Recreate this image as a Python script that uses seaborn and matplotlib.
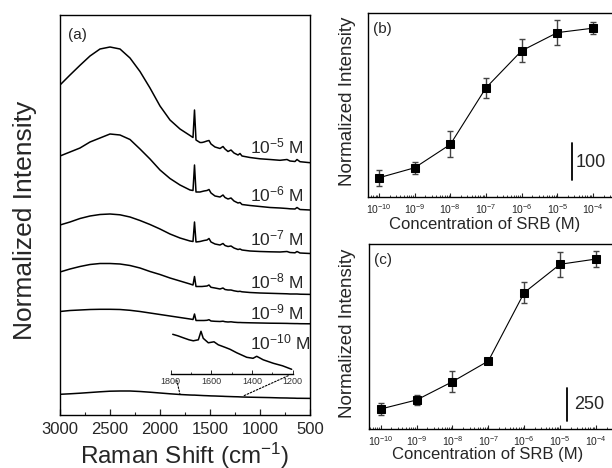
import matplotlib
matplotlib.use("Agg")
import matplotlib.pyplot as plt
import seaborn as sns
from matplotlib.patches import ConnectionPatch
from matplotlib.ticker import MultipleLocator, LogLocator, NullFormatter

# ---------------- data: panel (a) spectra ----------------
raman_shift = [3000, 2900, 2800, 2700, 2600, 2500, 2400, 2300, 2200, 2100, 2000,
               1900, 1800, 1700, 1670, 1655, 1640, 1600, 1580, 1560, 1530, 1510,
               1490, 1450, 1400, 1370, 1350, 1320, 1290, 1260, 1220, 1200, 1180,
               1100, 1000, 900, 800, 730, 700, 650, 630, 600, 500]

spec_1e5 = [330, 340, 349.7, 359, 366, 368, 366, 357, 343.5, 327, 309, 295, 286,
            279.5, 277.5, 305, 275, 272.5, 272.5, 273, 274, 274.5, 271, 268, 266.5,
            268.5, 266, 263.5, 265, 262, 260, 261.5, 259, 257.5, 256.2, 255.5, 254.7,
            255.5, 254, 253.5, 255.5, 253.3, 252.3]
spec_1e6 = [259, 263, 267, 273, 277, 281, 280, 275.5, 266, 256, 245, 236.5, 230,
            225, 224.5, 250, 223, 223, 223.5, 224, 224.5, 225.5, 222, 219, 218, 220,
            217.5, 216, 217, 214, 212, 212.5, 210.5, 209.5, 208.5, 207.5, 207, 206.5,
            206.2, 206, 207.5, 205.5, 205]
spec_1e7 = [190, 193, 196.5, 199, 200.5, 201, 200.2, 198, 194.5, 190.5, 186, 181,
            177, 174, 173.5, 193, 173, 173.5, 174, 174.5, 175, 176.5, 173, 171, 170,
            171.5, 169.5, 168.5, 169, 167, 165.5, 166, 165, 164, 163.5, 163.2, 163,
            163.5, 162.5, 162.2, 163.5, 162, 161.5]
spec_1e8 = [143, 146, 148.5, 150.5, 151.5, 151.5, 151, 149.5, 147, 143.5, 140.5,
            137, 134, 131, 130, 138.5, 128.5, 128.5, 128.5, 128.7, 129, 130, 127.7,
            127, 126, 127, 125.5, 125, 125, 124.2, 123.5, 123.7, 123.2, 122.5, 122,
            121.7, 121.4, 121.2, 121, 121, 121, 120.8, 120.6]
spec_1e9 = [103.5, 104.5, 105, 105.5, 105.7, 105.7, 105.5, 104.7, 103.5, 102, 100.5,
            99, 97.5, 96, 95.5, 101, 94.5, 94.5, 94.5, 94.5, 94.7, 95.3, 94, 93.7,
            93.5, 93.8, 93.3, 93, 93.2, 92.8, 92.5, 92.5, 92.4, 92.2, 92, 91.8, 91.7,
            91.6, 91.5, 91.4, 91.4, 91.3, 91.2]
spec_1e10 = [20.7, 21.2, 21.8, 22.5, 23.2, 23.8, 24, 24, 23.5, 22.8, 22, 21.2, 20.5,
             20, 19.9, 19.9, 19.8, 19.6, 19.5, 19.4, 19.3, 19.2, 19.1, 19.0, 18.8,
             18.7, 18.6, 18.5, 18.4, 18.3, 18.2, 18.1, 18.0, 17.8, 17.6, 17.4, 17.1,
             17.0, 16.9, 16.8, 16.7, 16.7, 16.6]

spectra = [spec_1e5, spec_1e6, spec_1e7, spec_1e8, spec_1e9, spec_1e10]
spectrum_labels = [r"$10^{-5}$ M", r"$10^{-6}$ M", r"$10^{-7}$ M",
                   r"$10^{-8}$ M", r"$10^{-9}$ M", r"$10^{-10}$ M"]

# inset: magnified 10^-10 M spectrum (1800-1200 cm-1)
inset_shift = [1790, 1765, 1738, 1710, 1689, 1664, 1651, 1640, 1615, 1587, 1566,
               1533, 1508, 1475, 1426, 1395, 1377, 1345, 1295, 1250, 1205]
inset_vals = [40, 38.5, 36.5, 34.5, 33.5, 34.5, 43, 36, 31.5, 32.5, 29.5,
              27, 25, 21.5, 17, 16, 18, 14.5, 11, 8.5, 5]
inset_ticks = [1800, 1600, 1400, 1200]

# ---------------- data: panels (b) and (c) ----------------
concentration = [1e-10, 1e-9, 1e-8, 1e-7, 1e-6, 1e-5, 1e-4]
intensity_b = [52, 79, 142, 295, 395, 444, 456]
error_b = [22, 16, 35, 27, 31, 34, 16]
intensity_c = [153, 222, 362, 520, 1043, 1260, 1300]
error_c = [47, 41, 79, 15, 83, 97, 60]
scale_b = 100
scale_c = 250

# ---------------- style ----------------
sns.set_style("ticks")
plt.rcParams["font.family"] = ["Liberation Sans", "DejaVu Sans"]
plt.rcParams["mathtext.default"] = "regular"
plt.rcParams["axes.linewidth"] = 1.0

W, H = 612, 468
fig = plt.figure(figsize=(W / 100, H / 100), dpi=100)


def px_axes(l, t, r, b):
    return fig.add_axes([l / W, (H - b) / H, (r - l) / W, (b - t) / H])


# ---------------- panel (a) ----------------
ax = px_axes(60, 15, 310, 415)
for vals in spectra:
    sns.lineplot(x=raman_shift, y=vals, ax=ax, color="black", lw=1.1,
                 sort=False, estimator=None)
ax.set_xlim(3000, 500)
ax.set_ylim(0, 400)
ax.xaxis.set_major_locator(MultipleLocator(500))
ax.xaxis.set_minor_locator(MultipleLocator(250))
ax.tick_params(axis="x", which="major", direction="in", length=4, width=0.9,
               labelsize=12, pad=5, top=False)
ax.tick_params(axis="x", which="minor", direction="in", length=2.5, width=0.8,
               top=False)
ax.tick_params(axis="y", left=False, right=False, labelleft=False)
for sp in ax.spines.values():
    sp.set_color("black")
ax.set_xlabel(r"Raman Shift (cm$^{-1}$)", fontsize=17.5, va="top")
ax.xaxis.set_label_coords(0.5, -0.064)
ax.set_ylabel("Normalized Intensity", fontsize=19)
ax.yaxis.set_label_coords(-0.092, 0.486)
ax.text(0.032, 0.968, "(a)", transform=ax.transAxes, fontsize=11,
        va="top", ha="left")
label_y = [261.7, 213.3, 170, 126.7, 95.7, 65.7]
for lab, ly in zip(spectrum_labels, label_y):
    ax.text(1100, ly, lab, fontsize=12.5, ha="left", va="baseline")

# inset
axi = fig.add_axes([170.7 / W, (H - 374.3) / H, 122 / W, 50 / H])
axi.patch.set_alpha(0)
sns.lineplot(x=inset_shift, y=inset_vals, ax=axi, color="black", lw=1.1,
             sort=False, estimator=None)
axi.set_xlim(1800, 1200)
axi.set_ylim(0, 50)
for s in ["top", "left", "right"]:
    axi.spines[s].set_visible(False)
axi.spines["bottom"].set_linewidth(1.0)
axi.spines["bottom"].set_color("black")
axi.set_xticks(inset_ticks)
axi.xaxis.set_minor_locator(MultipleLocator(100))
axi.tick_params(axis="x", which="major", direction="in", length=3, width=0.7,
                labelsize=6.5, pad=2, labelcolor="#333333")
axi.tick_params(axis="x", which="minor", direction="in", length=1.5, width=0.6)
axi.tick_params(axis="y", left=False, labelleft=False)
axi.set_xlabel("")
axi.set_ylabel("")

for xa, xb in [((1770, -6), (1800, 20.5)), ((1222, -1.4), (1167, 19))]:
    con = ConnectionPatch(xyA=xa, coordsA=axi.transData, xyB=xb,
                          coordsB=ax.transData, linestyle=(0, (1.5, 1.5)),
                          lw=0.8, color="black")
    fig.add_artist(con)


# ---------------- panels (b) and (c) ----------------
def conc_panel(axp, vals, errs, xlim, ylim, tag, bar_x, bar_y0, bar_len, txt_x, txt_y,
               ylab_y, xlab_x, xlab_y, ylab_x):
    axp.set_xscale("log")
    axp.errorbar(concentration, vals, yerr=errs, fmt="none", ecolor="#444444",
                 elinewidth=1.0, capsize=2.3, capthick=1.0, zorder=2)
    sns.lineplot(x=concentration, y=vals, ax=axp, color="black", lw=0.8,
                 marker="s", markersize=6, markeredgecolor="black",
                 markerfacecolor="black", estimator=None, zorder=3)
    axp.set_xlim(*xlim)
    axp.set_ylim(*ylim)
    axp.xaxis.set_major_locator(LogLocator(base=10, numticks=20))
    axp.xaxis.set_minor_locator(LogLocator(base=10, subs=range(2, 10), numticks=20))
    axp.xaxis.set_minor_formatter(NullFormatter())
    axp.tick_params(axis="x", which="major", direction="in", length=3, width=0.8,
                    labelsize=7.5, pad=4, top=False)
    axp.tick_params(axis="x", which="minor", direction="in", length=1.8, width=0.6,
                    top=False)
    axp.tick_params(axis="y", left=False, right=False, labelleft=False)
    for sp in axp.spines.values():
        sp.set_color("black")
    axp.set_xlabel("Concentration of SRB (M)", fontsize=12, va="top")
    axp.xaxis.set_label_coords(xlab_x, xlab_y)
    axp.set_ylabel("Normalized Intensity", fontsize=13.5)
    axp.yaxis.set_label_coords(ylab_x, ylab_y)
    axp.text(0.022, 0.952, tag, transform=axp.transAxes, fontsize=11,
             va="top", ha="left")
    axp.plot([bar_x, bar_x], [bar_y0, bar_y0 + bar_len], color="black", lw=1.3)
    axp.text(txt_x, txt_y, str(bar_len), fontsize=13, ha="left", va="center")


axb = px_axes(368, 13, 613, 197)
conc_panel(axb, intensity_b, error_b, (10 ** -10.308, 10 ** -3.439), (0, 497), "(b)",
           10 ** -4.6, 46, scale_b, 10 ** -4.5, 93,
           0.519, 0.478, -0.108, -0.05)

axc = px_axes(369, 244, 613, 429)
conc_panel(axc, intensity_c, error_c, (10 ** -10.326, 10 ** -3.526), (0, 1415), "(c)",
           10 ** -4.8, 61, scale_c, 10 ** -4.6, 191,
           0.516, 0.488, -0.1, -0.053)

fig.savefig("out.png", dpi=100)
